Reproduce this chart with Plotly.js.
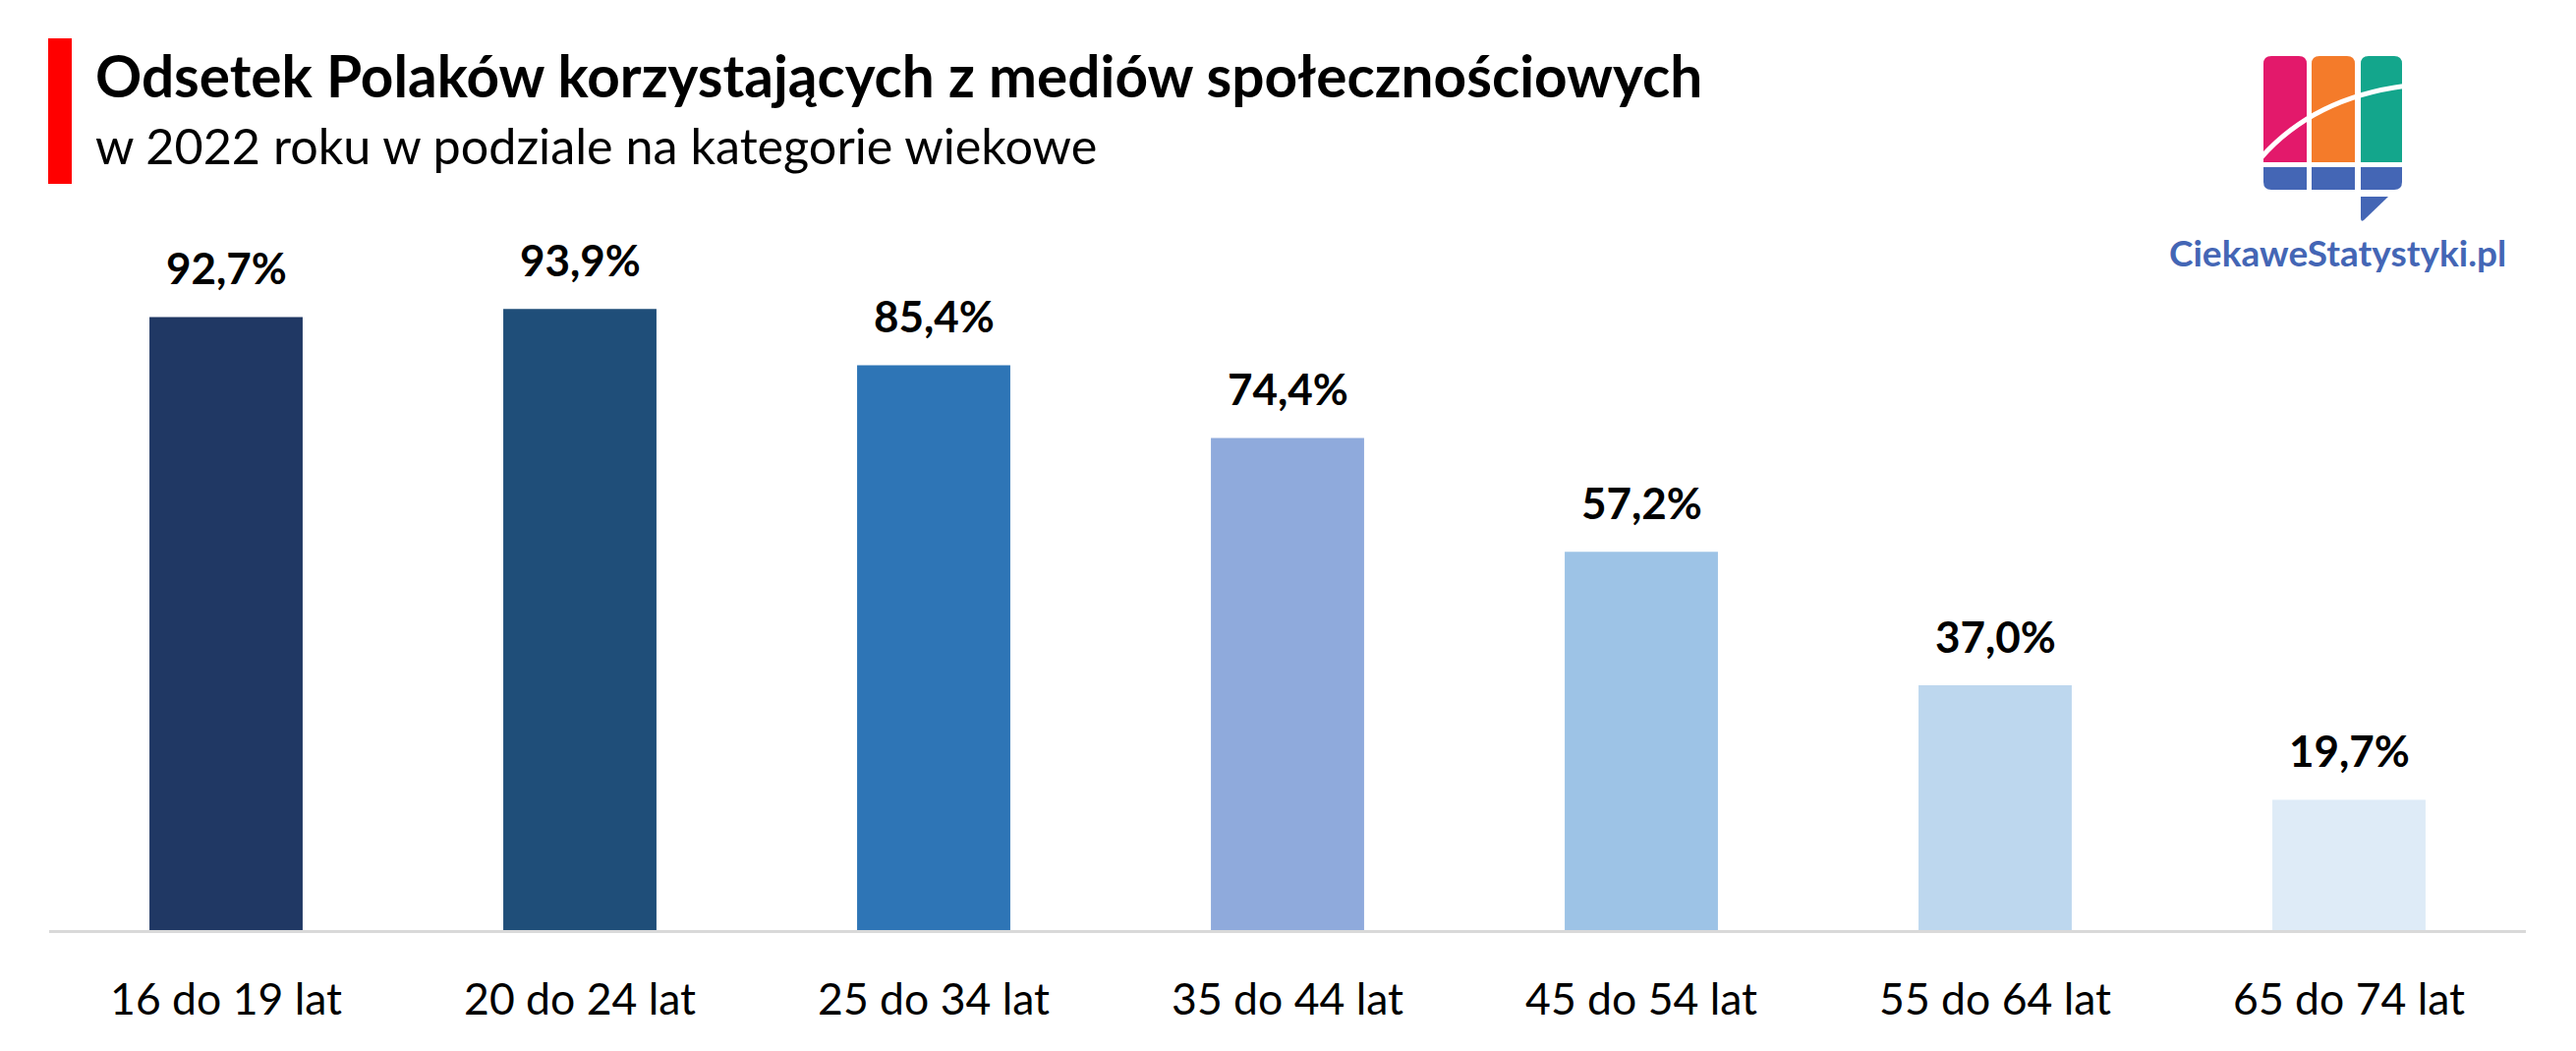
<!DOCTYPE html>
<html>
<head>
<meta charset="utf-8">
<script src="https://cdn.plot.ly/plotly-3.0.1.min.js"></script>
<style>html,body{margin:0;padding:0;background:#fff;}#chart{width:2621px;height:1069px;}</style>
</head>
<body>
<div id="chart"></div>
<script>
// ---- data ----
const categories = ["16 do 19 lat", "20 do 24 lat", "25 do 34 lat", "35 do 44 lat", "45 do 54 lat", "55 do 64 lat", "65 do 74 lat"];
const values = [92.7, 93.9, 85.4, 74.4, 57.2, 37.0, 19.7];
const valueLabels = ["92,7%", "93,9%", "85,4%", "74,4%", "57,2%", "37,0%", "19,7%"];
const barColors = ["#203864", "#1f4e79", "#2e75b6", "#8faadc", "#9dc3e6", "#bdd7ee", "#deebf7"];
const titleText = "Odsetek Polaków korzystających z mediów społecznościowych";
const subtitleText = "w 2022 roku w podziale na kategorie wiekowe";
const brandText = "CiekaweStatystyki.pl";

const W = 2621, H = 1069;
const L = 50, R = 51, T = 206, B = 123;
const pw = W - L - R, ph = H - T - B;
const px = x => (x - L) / pw;
const py = y => (H - B - y) / ph;

const logoSvg =
 '<svg xmlns="http://www.w3.org/2000/svg" width="148" height="173" viewBox="0 0 148 173">' +
 '<path d="M3 110 V10 Q3 2 11 2 H39 Q47 2 47 10 V110 Z" fill="#e3196b"/>' +
 '<path d="M52 110 V10 Q52 2 60 2 H88 Q96 2 96 10 V110 Z" fill="#f47b2a"/>' +
 '<path d="M102 110 V10 Q102 2 110 2 H136 Q144 2 144 10 V110 Z" fill="#13a68c"/>' +
 '<path d="M3 115 H47 V138 H11 Q3 138 3 130 Z" fill="#4466b5"/>' +
 '<rect x="52" y="115" width="44" height="23" fill="#4466b5"/>' +
 '<path d="M102 115 H144 V130 Q144 138 136 138 H102 Z" fill="#4466b5"/>' +
 '<path d="M102 145 H130 L105 169 Q102 171 102 167 Z" fill="#4466b5"/>' +
 '<path d="M0 106 C35 66, 85 40, 150 32" stroke="#ffffff" stroke-width="5" fill="none"/>' +
 '</svg>';

const annotations = categories.map((c, i) => ({
  x: c, y: values[i], xref: 'x', yref: 'y',
  text: valueLabels[i], showarrow: false,
  xanchor: 'center', yanchor: 'middle', yshift: 50,
  font: {family: 'Lato, sans-serif', size: 44, color: '#000', weight: 700}
}));
annotations.push({
  x: px(95), y: py(75.5), xref: 'paper', yref: 'paper',
  text: '<b>' + titleText + '</b>', showarrow: false,
  xanchor: 'left', yanchor: 'middle',
  font: {family: 'Lato, sans-serif', size: 58.5, color: '#000'}
});
annotations.push({
  x: px(95), y: py(148), xref: 'paper', yref: 'paper',
  text: subtitleText, showarrow: false,
  xanchor: 'left', yanchor: 'middle',
  font: {family: 'Lato, sans-serif', size: 50.3, color: '#000'}
});
annotations.push({
  x: px(2205), y: py(256.5), xref: 'paper', yref: 'paper',
  text: '<b>' + brandText + '</b>', showarrow: false,
  xanchor: 'left', yanchor: 'middle',
  font: {family: 'Lato, sans-serif', size: 37, color: '#4466b5'}
});

const trace = {
  type: 'bar', x: categories, y: values,
  marker: {color: barColors, line: {width: 0}},
  hoverinfo: 'skip'
};

const layout = {
  width: W, height: H,
  margin: {l: L, r: R, t: T, b: B, pad: 0},
  paper_bgcolor: '#ffffff', plot_bgcolor: '#ffffff',
  showlegend: false,
  bargap: 0.567,
  xaxis: {
    type: 'category', showgrid: false, zeroline: false,
    showline: true, linecolor: '#d9d9d9', linewidth: 3,
    ticks: '', ticklabelstandoff: 30,
    tickfont: {family: 'Lato, sans-serif', size: 44.5, color: '#000'}
  },
  yaxis: {
    range: [0, 110], visible: false, showgrid: false, zeroline: false
  },
  shapes: [{
    type: 'rect', xref: 'paper', yref: 'paper',
    x0: px(49), x1: px(73), y0: py(187), y1: py(39),
    fillcolor: '#ff0000', line: {width: 0}, layer: 'above'
  }],
  images: [{
    source: 'data:image/svg+xml;charset=utf-8,' + encodeURIComponent(logoSvg),
    xref: 'paper', yref: 'paper',
    x: px(2300), y: py(55), sizex: 148 / pw, sizey: 173 / ph,
    xanchor: 'left', yanchor: 'top', sizing: 'stretch', layer: 'above'
  }],
  annotations: annotations
};

Plotly.newPlot('chart', [trace], layout, {displayModeBar: false, staticPlot: true});
</script>
</body>
</html>
